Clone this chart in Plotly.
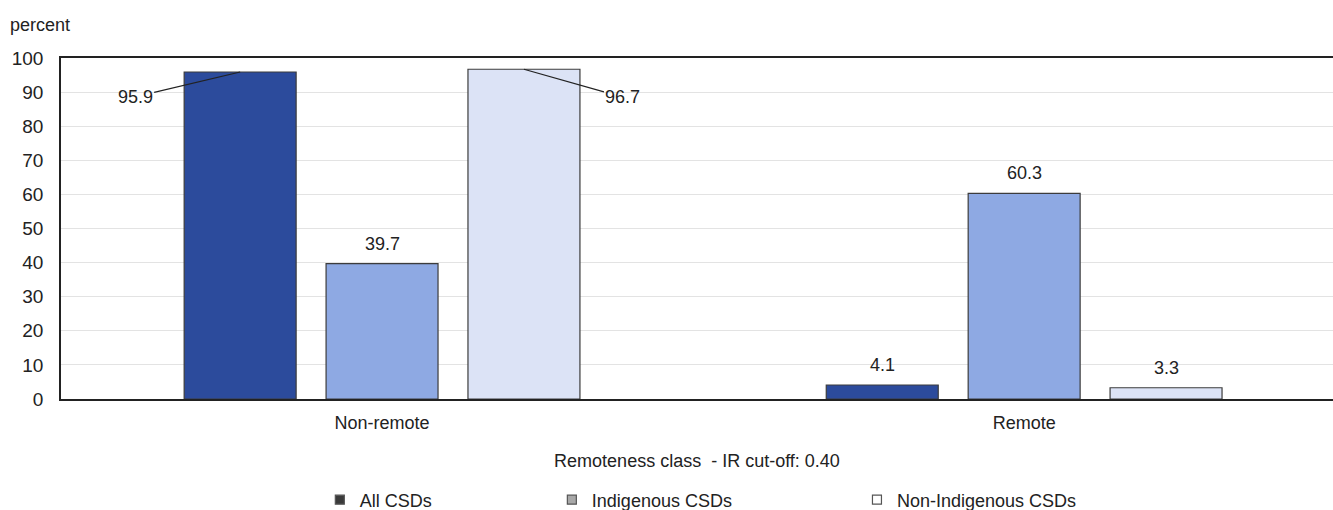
import plotly.graph_objects as go

categories = ["Non-remote", "Remote"]
series_names = ["All CSDs", "Indigenous CSDs", "Non-Indigenous CSDs"]
all_csds = [95.9, 4.1]
indigenous_csds = [39.7, 60.3]
non_indigenous_csds = [96.7, 3.3]
y_ticks = [0, 10, 20, 30, 40, 50, 60, 70, 80, 90, 100]

FONT = "Liberation Sans, Arial, sans-serif"
bar_colors = ["#2C4B9C", "#8EA9E3", "#DCE3F6"]
legend_colors = ["#3A3A3A", "#A8A8A8", "#FFFFFF"]
values = [all_csds, indigenous_csds, non_indigenous_csds]

# labels drawn with leader lines instead of on top of bars
leader = {(0, 0): (-105, 25), (2, 0): (99, 28)}

fig = go.Figure()
for si, (name, vals, col) in enumerate(zip(series_names, values, bar_colors)):
    fig.add_trace(go.Bar(
        x=categories, y=vals, name=name, showlegend=False,
        marker=dict(color=col, line=dict(color="#3C3C3C", width=1.2)),
        hoverinfo="x+y+name",
    ))

# legend-only entries (grey squares as in the source)
pad = ["\u00a0" * 23, "\u00a0" * 24, ""]
for name, col, p in zip(series_names, legend_colors, pad):
    fig.add_trace(go.Scatter(
        x=[None], y=[None], mode="markers", name=name + p,
        marker=dict(symbol="square", size=9, color=col,
                    line=dict(color="#555555", width=1.2)),
    ))

slot = 0.221
for si, vals in enumerate(values):
    for ci, v in enumerate(vals):
        x_pos = ci + (si - 1) * slot
        if (si, ci) in leader:
            ax, ay = leader[(si, ci)]
            fig.add_annotation(
                x=x_pos, y=v, xref="x", yref="y",
                text=f"{v:.1f}", showarrow=True, arrowhead=0,
                arrowwidth=1.2, arrowcolor="#222222", ax=ax, ay=ay,
                font=dict(family=FONT, size=18, color="#222222"),
            )
        else:
            fig.add_annotation(
                x=x_pos, y=v, xref="x", yref="y",
                text=f"{v:.1f}", showarrow=False, yanchor="middle",
                yshift=20, font=dict(family=FONT, size=18, color="#222222"),
            )

fig.add_annotation(
    x=-0.0417, y=1.097, xref="paper", yref="paper", text="percent",
    showarrow=False, xanchor="left", yanchor="middle",
    font=dict(family=FONT, size=18, color="#222222"),
)

fig.update_layout(
    width=1333, height=510,
    margin=dict(l=61, r=0, t=58, b=111, autoexpand=False),
    paper_bgcolor="white", plot_bgcolor="white",
    barmode="group", bargap=0.337, bargroupgap=0.211,
    font=dict(family=FONT, size=18, color="#222222"),
    legend=dict(orientation="h", x=0.503, xanchor="center", y=-0.296,
                yanchor="middle", font=dict(family=FONT, size=18, color="#222222"),
                itemwidth=30, tracegroupgap=0),
    showlegend=True,
)
fig.update_xaxes(
    type="category", range=[-0.5, 1.481], automargin=False,
    showline=True, linecolor="#222222", linewidth=1.5, mirror=True,
    showgrid=False, ticks="", ticklabelstandoff=7,
    tickfont=dict(family=FONT, size=18, color="#222222"),
    title=dict(text="Remoteness class  - IR cut-off: 0.40", standoff=22,
               font=dict(family=FONT, size=18, color="#222222")),
)
fig.update_yaxes(
    range=[0, 100], tickvals=y_ticks, automargin=False,
    showline=True, linecolor="#222222", linewidth=1.5,
    showgrid=True, gridcolor="#E3E3E3", gridwidth=1,
    zeroline=False, ticks="", ticklabelstandoff=12,
    tickfont=dict(family=FONT, size=19, color="#222222"),
)

fig.write_html(
    "out.html",
    config={"displayModeBar": False},
    post_script="document.body.style.margin='0';document.body.style.overflow='hidden';",
)
